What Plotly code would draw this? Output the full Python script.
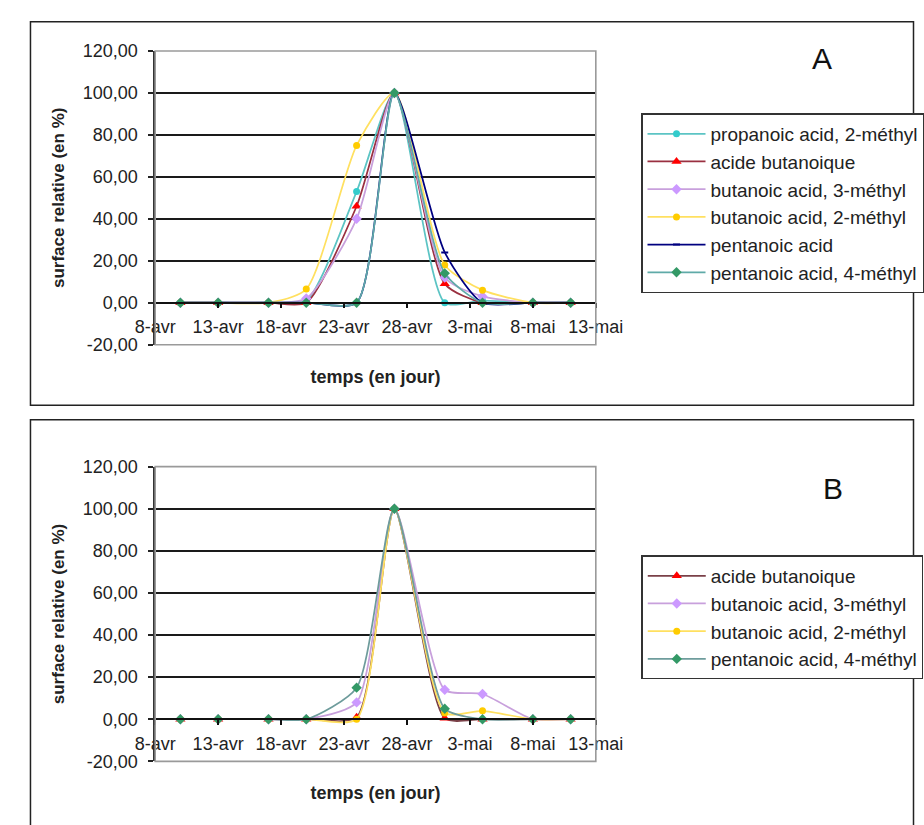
import plotly.graph_objects as go

# ---------------- data ----------------
dates = ["2009-04-10", "2009-04-13", "2009-04-17", "2009-04-20", "2009-04-24",
         "2009-04-27", "2009-05-01", "2009-05-04", "2009-05-08", "2009-05-11"]

# Panel A
a_propanoic_2m = [0, 0, 0, 1, 53, 100, 0, 1, 0, 0]
a_butanoique = [0, 0, 0, 0, 46, 100, 9, 0, 0, 0]
a_butanoic_3m = [0, 0, 0, 2, 40, 100, 12, 3, 0, 0]
a_butanoic_2m = [0, 0, 0, 6.5, 75, 100, 18, 6, 0, 0]
a_pentanoic = [0, 0, 0, 0, 0, 100, 24, 0, 0, 0]
a_pentanoic_4m = [0, 0, 0, 0, 0, 100, 14, 0, 0, 0]

# Panel B
b_butanoique = [0, 0, 0, 0, 1, 100, 0.5, 0, 0, 0]
b_butanoic_3m = [0, 0, 0, 0, 8, 100, 14, 12, 0, 0]
b_butanoic_2m = [0, 0, 0, 0, 0, 100, 3, 4, 0, 0]
b_pentanoic_4m = [0, 0, 0, 0, 15, 100, 5, 0, 0, 0]

x_tick_dates = ["2009-04-08", "2009-04-13", "2009-04-18", "2009-04-23",
                "2009-04-28", "2009-05-03", "2009-05-08", "2009-05-13"]
x_tick_labels = ["8-avr", "13-avr", "18-avr", "23-avr", "28-avr", "3-mai", "8-mai", "13-mai"]
y_tick_vals = [-20, 0, 20, 40, 60, 80, 100, 120]
y_tick_labels = ["-20,00", "0,00", "20,00", "40,00", "60,00", "80,00", "100,00", "120,00"]

# ---------------- layout geometry ----------------
W, H = 924, 825
def fx(px):
    return px / W
def fy(py):
    return 1 - py / H

XDOM = [fx(141.7), fx(607)]
YDOM_A = [fy(343), fy(42)]
YDOM_B = [fy(770), fy(468)]
def zero_pos(dom):
    return dom[0] + (0 - (-20)) / 140 * (dom[1] - dom[0])

FONT = "Liberation Sans, Arial, sans-serif"
SMOOTH = 0.65

fig = go.Figure()

def add(xv, yv, name, lcolor, mcolor, symbol, msize, xa, ya, leg, mline=None):
    fig.add_trace(go.Scatter(
        x=xv, y=yv, name=name, mode="lines+markers",
        line=dict(color=lcolor, width=1.75, shape="spline", smoothing=SMOOTH),
        marker=dict(color=mcolor, symbol=symbol, size=msize,
                    line=mline if mline else dict(width=0)),
        xaxis=xa, yaxis=ya, legend=leg))

C_PROP = ("#5CC4C4", "#33CCCC")
C_BUT = ("#9A3040", "#FF0000")
C_B3M = ("#C8A0DC", "#CC99FF")
C_B2M = ("#FFE060", "#FFCC00")
C_PENT = ("#000080", "#000080")
C_P4M = ("#5FAAA8", "#339966")

add(dates, a_propanoic_2m, "propanoic acid, 2-méthyl", *C_PROP, "circle", 7, "x", "y", "legend")
add(dates, a_butanoique, "acide butanoique", *C_BUT, "triangle-up", 9, "x", "y", "legend")
add(dates, a_butanoic_3m, "butanoic acid, 3-méthyl", *C_B3M, "diamond", 8, "x", "y", "legend")
add(dates, a_butanoic_2m, "butanoic acid, 2-méthyl", *C_B2M, "circle", 7, "x", "y", "legend")
add(dates, a_pentanoic, "pentanoic acid", *C_PENT, "line-ew", 5, "x", "y", "legend",
    mline=dict(color="#000080", width=2))
add(dates, a_pentanoic_4m, "pentanoic acid, 4-méthyl", *C_P4M, "diamond", 8, "x", "y", "legend")

add(dates, b_butanoique, "acide butanoique", "#7A4048", "#FF0000", "triangle-up", 9, "x2", "y2", "legend2")
add(dates, b_butanoic_3m, "butanoic acid, 3-méthyl", *C_B3M, "diamond", 8, "x2", "y2", "legend2")
add(dates, b_butanoic_2m, "butanoic acid, 2-méthyl", *C_B2M, "circle", 7, "x2", "y2", "legend2")
add(dates, b_pentanoic_4m, "pentanoic acid, 4-méthyl", "#6E9C9C", "#339966", "diamond", 8, "x2", "y2", "legend2")

def xaxis_def(dom_y):
    return dict(
        domain=XDOM, range=["2009-04-08", "2009-05-13"], type="date",
        tickvals=x_tick_dates, ticktext=x_tick_labels,
        ticks="outside", ticklen=5, tickwidth=1.5, tickcolor="#111",
        showline=True, linecolor="#111", linewidth=1.5,
        showgrid=False, zeroline=False, anchor="free", position=zero_pos(dom_y),
        ticklabelstandoff=3,
        tickfont=dict(family=FONT, size=18, color="#222"),
        title=dict(text="<b>temps (en jour)</b>", font=dict(family=FONT, size=18, color="#222"),
                   standoff=33),
        fixedrange=True)

def yaxis_def(dom_y, anchor):
    return dict(
        domain=dom_y, range=[-20, 120], tickvals=y_tick_vals, ticktext=y_tick_labels,
        ticks="outside", ticklen=5, tickwidth=1.5, tickcolor="#222",
        showline=True, linecolor="#333", linewidth=1.5,
        showgrid=True, gridcolor="#1a1a1a", gridwidth=1.6, zeroline=False,
        anchor=anchor, ticklabelstandoff=7,
        tickfont=dict(family=FONT, size=18, color="#222"),
        title=dict(text="<b>surface relative (en %)</b>", font=dict(family=FONT, size=17, color="#222"),
                   standoff=14),
        fixedrange=True)

legend_common = dict(
    xanchor="left", yanchor="top", bgcolor="white", bordercolor="#333", borderwidth=1.5,
    font=dict(family=FONT, size=19, color="#222"), tracegroupgap=0, itemwidth=58)

fig.update_layout(
    width=W, height=H, margin=dict(l=0, r=0, t=0, b=0),
    paper_bgcolor="white", plot_bgcolor="white",
    xaxis=xaxis_def(YDOM_A), yaxis=yaxis_def(YDOM_A, "x"),
    xaxis2=xaxis_def(YDOM_B), yaxis2=yaxis_def(YDOM_B, "x2"),
    legend=dict(x=fx(655), y=fy(106), **legend_common),
    legend2=dict(x=fx(655), y=fy(559), **legend_common),
    showlegend=True,
)

# plot-area borders (grey) and outer panel frames
for xr, yr in (("x domain", "y domain"), ("x2 domain", "y2 domain")):
    fig.add_shape(type="rect", xref=xr, yref=yr, x0=0, x1=1, y0=0, y1=1,
                  line=dict(color="#9a9a9a", width=1.6), layer="above")
fig.add_shape(type="rect", xref="paper", yref="paper", x0=fx(10), x1=1.02, y0=fy(405), y1=fy(12),
              line=dict(color="#222", width=1.5), layer="below")
fig.add_shape(type="rect", xref="paper", yref="paper", x0=fx(10), x1=1.02, y0=-0.02, y1=fy(420),
              line=dict(color="#222", width=1.5), layer="below")

fig.add_annotation(x=fx(846), y=fy(50), xref="paper", yref="paper", text="A", showarrow=False,
                   xanchor="center", yanchor="middle",
                   font=dict(family=FONT, size=30, color="#111"))
fig.add_annotation(x=fx(857), y=fy(490), xref="paper", yref="paper", text="B", showarrow=False,
                   xanchor="center", yanchor="middle",
                   font=dict(family=FONT, size=30, color="#111"))

fig.write_html("out.html")
